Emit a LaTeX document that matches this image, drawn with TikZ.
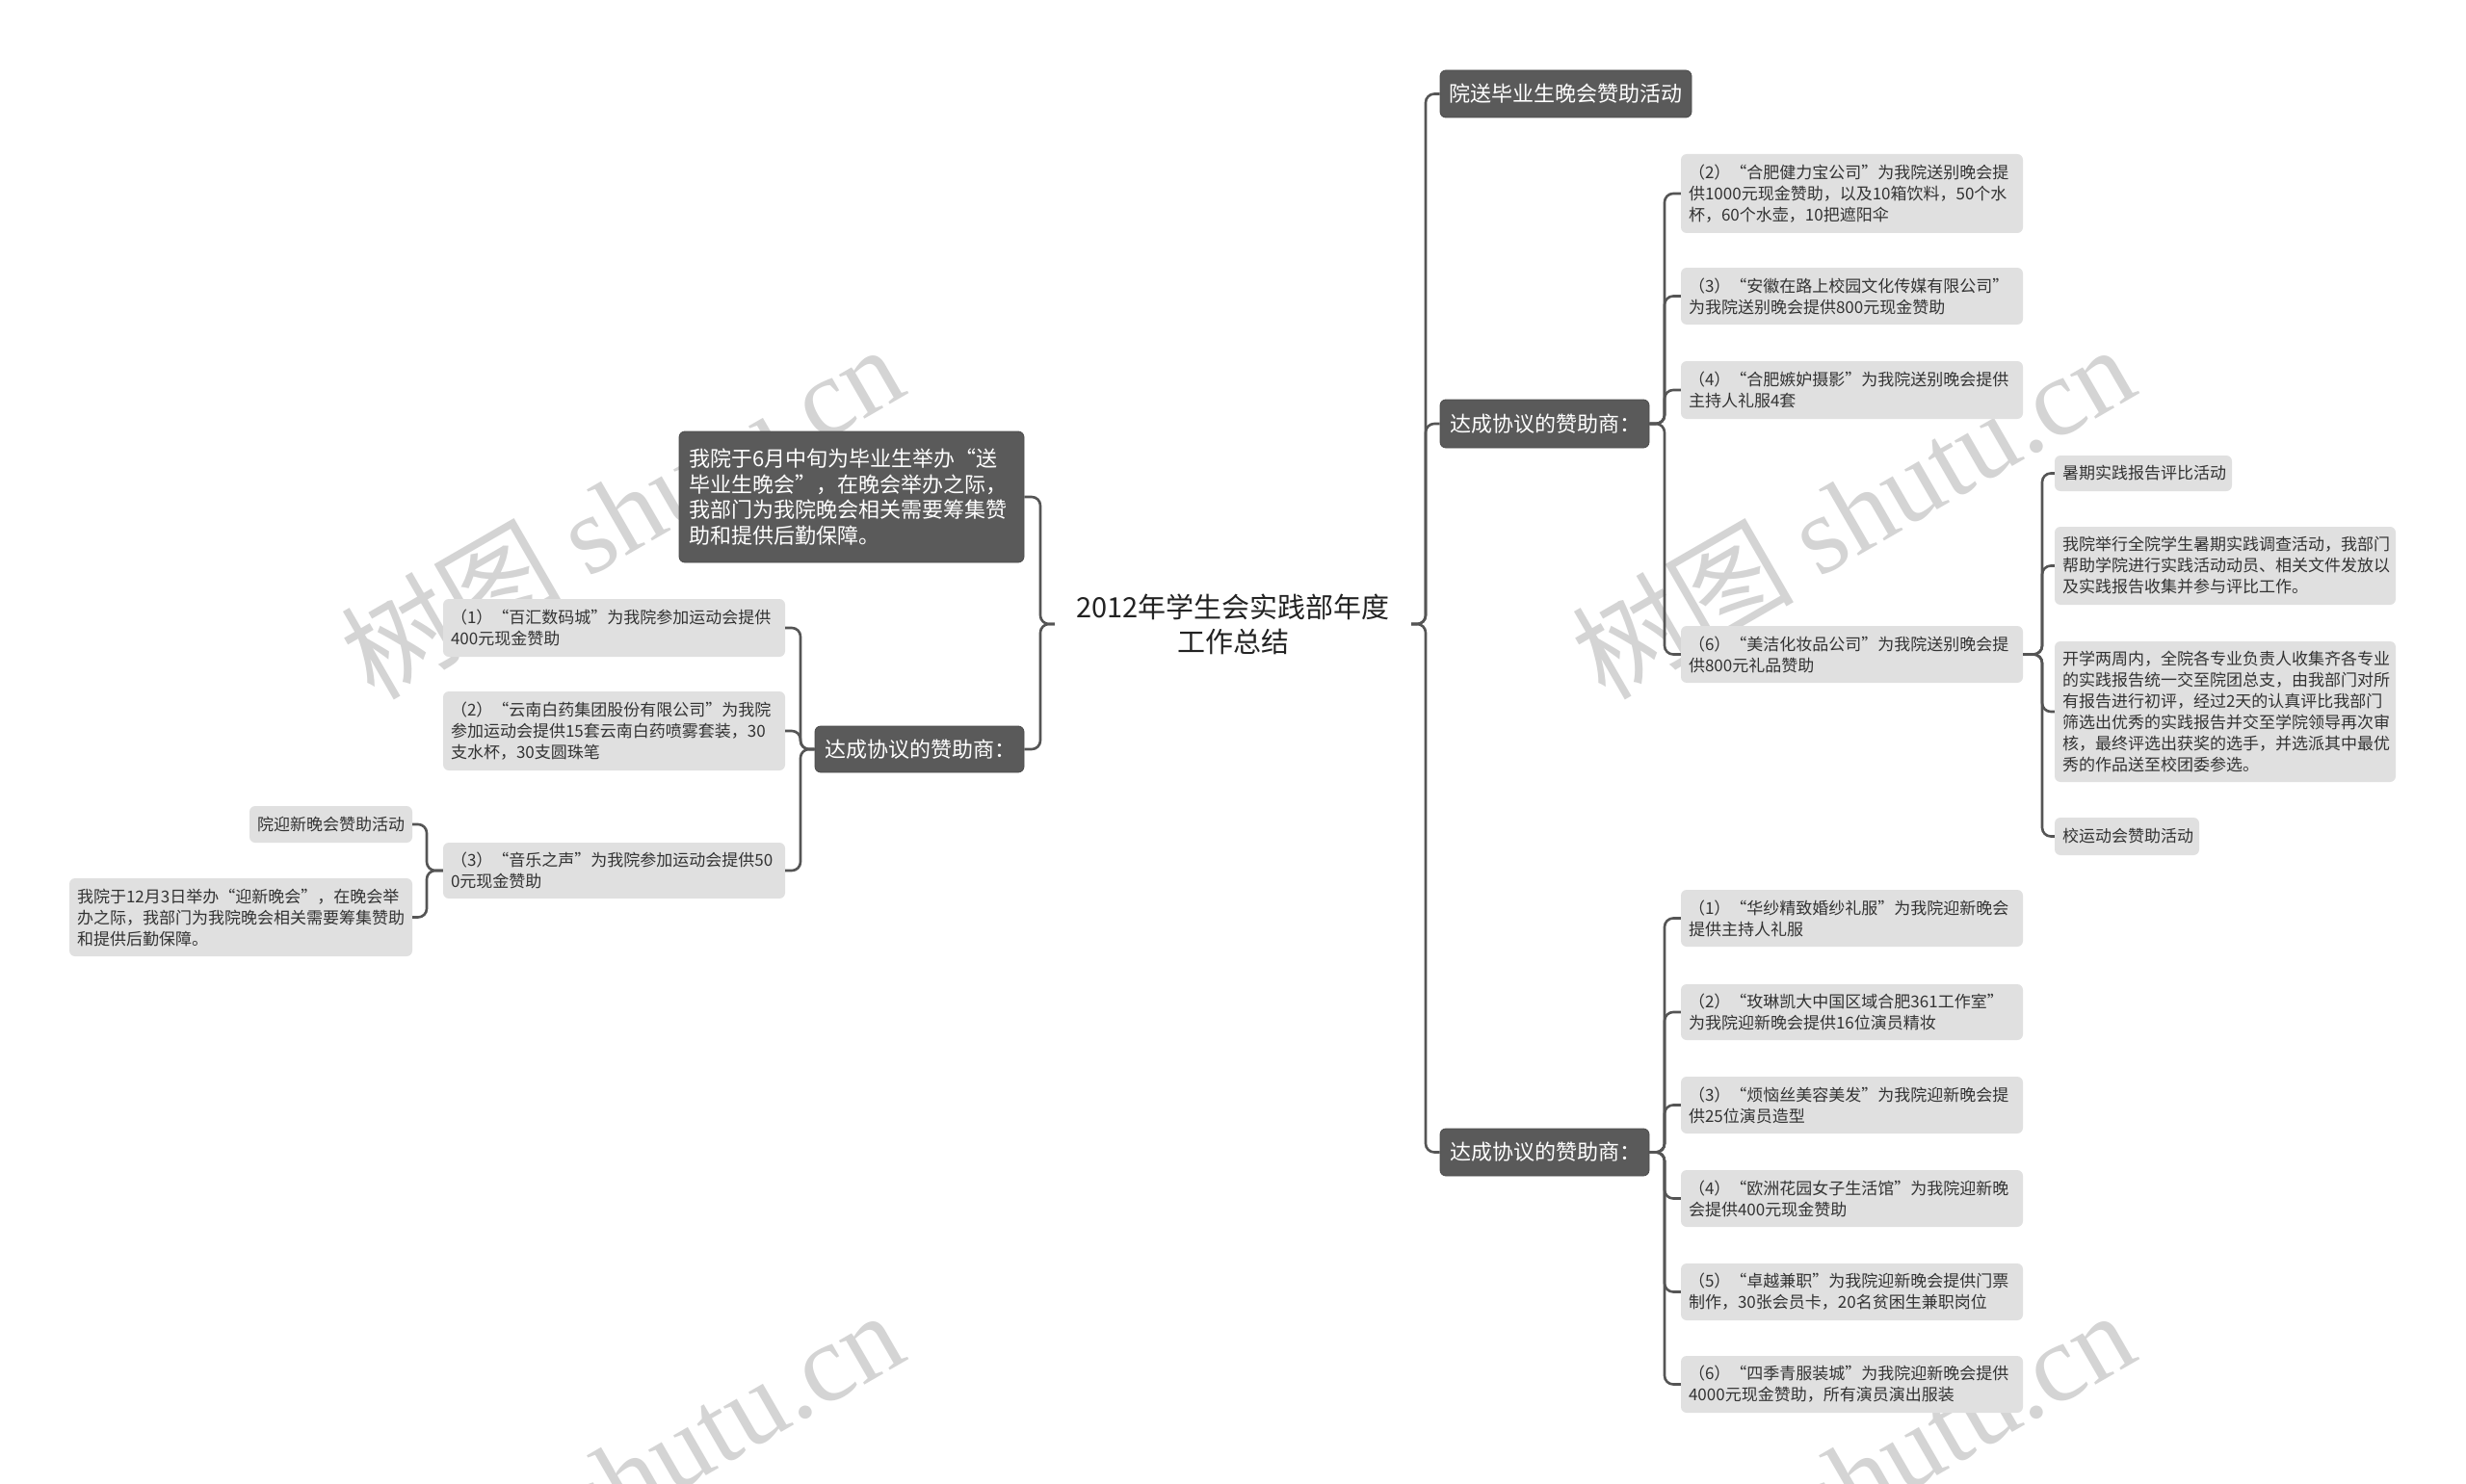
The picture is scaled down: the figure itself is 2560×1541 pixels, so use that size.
\documentclass[tikz,border=0pt]{standalone}
\usepackage{fontspec}
\setmainfont{Noto Sans CJK SC}
\newfontfamily\wmserif{Liberation Serif}
\definecolor{darkfill}{HTML}{5A5A5A}
\definecolor{darkedge}{HTML}{4A4A4A}
\definecolor{lightfill}{HTML}{E0E0E0}
\definecolor{linec}{HTML}{555555}
\definecolor{leaftext}{HTML}{333333}
\definecolor{titletext}{HTML}{222222}
\definecolor{wmc}{HTML}{D4D4D4}
\tikzset{
  basebox/.style={rounded corners=6pt, inner xsep=0pt, inner ysep=0pt, align=left},
  darkbox/.style={basebox, fill=darkfill, draw=darkedge, line width=0.8pt, text=white, font=\fontsize{22}{26.5}\selectfont},
  lightbox/.style={basebox, fill=lightfill, text=leaftext, font=\fontsize{17}{22}\selectfont},
  conn/.style={draw=linec, line width=2.6pt, rounded corners=9pt},
  wm/.style={text=wmc, font=\fontsize{115}{120}\selectfont, inner sep=0pt},
  titlebox/.style={inner sep=0pt, align=center, text=titletext, font=\fontsize{29}{36}\selectfont}
}
\newcommand\mkbox[8]{%
  \pgfmathsetmacro\mkbW{#5-#3}%
  \pgfmathsetmacro\mkbH{#6-#4}%
  \pgfmathsetmacro\mkbX{(#3+#5)/2}%
  \pgfmathsetmacro\mkbY{(#4+#6)/2}%
  \pgfmathsetmacro\mkbT{#5-#3-2*#7}%
  \node[#1, minimum width=\mkbW pt, minimum height=\mkbH pt, text width=\mkbT pt] (#2) at (\mkbX,\mkbY) {#8};}
\begin{document}
\begin{tikzpicture}[x=1pt, y=-1pt]
\useasboundingbox (0,0) rectangle (2560,1541);
\fill[white] (0,0) rectangle (2560,1541);

% watermarks
\node[wm, rotate=30] (wm1) at (645,530) {树图 {\wmserif shutu.cn}};
\node[wm, rotate=30] (wm2) at (1923,530) {树图 {\wmserif shutu.cn}};
\node[wm, rotate=30] (wm3) at (645,1533) {树图 {\wmserif shutu.cn}};
\node[wm, rotate=30] (wm4) at (1923,1533) {树图 {\wmserif shutu.cn}};

% vertical guide coordinates
\coordinate (vC) at (1080,0);
\coordinate (vCR) at (1480,0);
\coordinate (vL) at (831,0);
\coordinate (vL3) at (443,0);
\coordinate (vR) at (1728,0);
\coordinate (vR6) at (2120,0);

% central title
\node[titlebox, minimum width=370pt] (C) at (1280,648) {2012年学生会实践部年度\\工作总结};

% left side
\mkbox{darkbox}{D1}{705}{448}{1063}{584}{10}{我院于6月中旬为毕业生举办“送\\毕业生晚会”，在晚会举办之际，\\我部门为我院晚会相关需要筹集赞\\助和提供后勤保障。}
\mkbox{darkbox}{L}{846}{754}{1063}{802}{10}{达成协议的赞助商：}
\mkbox{lightbox}{LA1}{460}{622}{815}{682}{8}{（1）“百汇数码城”为我院参加运动会提供\\400元现金赞助}
\mkbox{lightbox}{LA2}{460}{718}{815}{800}{8}{（2）“云南白药集团股份有限公司”为我院\\参加运动会提供15套云南白药喷雾套装，30\\支水杯，30支圆珠笔}
\mkbox{lightbox}{LA3}{460}{875}{815}{933}{8}{（3）“音乐之声”为我院参加运动会提供50\\0元现金赞助}
\mkbox{lightbox}{LB1}{259}{837}{428}{875}{8}{院迎新晚会赞助活动}
\mkbox{lightbox}{LB2}{72}{912}{428}{993}{8}{我院于12月3日举办“迎新晚会”，在晚会举\\办之际，我部门为我院晚会相关需要筹集赞助\\和提供后勤保障。}

% right side
\mkbox{darkbox}{R1}{1495}{73}{1756}{122}{9}{院送毕业生晚会赞助活动}
\mkbox{darkbox}{R2}{1495}{415}{1712}{465}{10}{达成协议的赞助商：}
\mkbox{darkbox}{R3}{1495}{1172}{1712}{1221}{10}{达成协议的赞助商：}

\mkbox{lightbox}{RA2}{1745}{160}{2100}{242}{8}{（2）“合肥健力宝公司”为我院送别晚会提\\供1000元现金赞助，以及10箱饮料，50个水\\杯，60个水壶，10把遮阳伞}
\mkbox{lightbox}{RA3}{1745}{278}{2100}{337}{8}{（3）“安徽在路上校园文化传媒有限公司”\\为我院送别晚会提供800元现金赞助}
\mkbox{lightbox}{RA4}{1745}{375}{2100}{435}{8}{（4）“合肥嫉妒摄影”为我院送别晚会提供\\主持人礼服4套}
\mkbox{lightbox}{RA6}{1745}{650}{2100}{709}{8}{（6）“美洁化妆品公司”为我院送别晚会提\\供800元礼品赞助}

\mkbox{lightbox}{RC1}{2133}{473}{2317}{510}{8}{暑期实践报告评比活动}
\mkbox{lightbox}{RC2}{2133}{547}{2487}{628}{8}{我院举行全院学生暑期实践调查活动，我部门\\帮助学院进行实践活动动员、相关文件发放以\\及实践报告收集并参与评比工作。}
\mkbox{lightbox}{RC3}{2133}{666}{2487}{812}{8}{开学两周内，全院各专业负责人收集齐各专业\\的实践报告统一交至院团总支，由我部门对所\\有报告进行初评，经过2天的认真评比我部门\\筛选出优秀的实践报告并交至学院领导再次审\\核，最终评选出获奖的选手，并选派其中最优\\秀的作品送至校团委参选。}
\mkbox{lightbox}{RC4}{2133}{849}{2283}{888}{8}{校运动会赞助活动}

\mkbox{lightbox}{RB1}{1745}{924}{2100}{983}{8}{（1）“华纱精致婚纱礼服”为我院迎新晚会\\提供主持人礼服}
\mkbox{lightbox}{RB2}{1745}{1022}{2100}{1080}{8}{（2）“玫琳凯大中国区域合肥361工作室”\\为我院迎新晚会提供16位演员精妆}
\mkbox{lightbox}{RB3}{1745}{1118}{2100}{1177}{8}{（3）“烦恼丝美容美发”为我院迎新晚会提\\供25位演员造型}
\mkbox{lightbox}{RB4}{1745}{1215}{2100}{1274}{8}{（4）“欧洲花园女子生活馆”为我院迎新晚\\会提供400元现金赞助}
\mkbox{lightbox}{RB5}{1745}{1312}{2100}{1371}{8}{（5）“卓越兼职”为我院迎新晚会提供门票\\制作，30张会员卡，20名贫困生兼职岗位}
\mkbox{lightbox}{RB6}{1745}{1408}{2100}{1467}{8}{（6）“四季青服装城”为我院迎新晚会提供\\4000元现金赞助，所有演员演出服装}

% connectors: centre
\foreach \t in {D1,L}{
  \draw[conn] (C.west) -- (vC |- C.west) -- (vC |- \t.east) -- (\t.east);
}
\foreach \t in {R1,R2,R3}{
  \draw[conn] (C.east) -- (vCR |- C.east) -- (vCR |- \t.west) -- (\t.west);
}
% left branch
\foreach \t in {LA1,LA2,LA3}{
  \draw[conn] (L.west) -- (vL |- L.west) -- (vL |- \t.east) -- (\t.east);
}
\foreach \t in {LB1,LB2}{
  \draw[conn] (LA3.west) -- (vL3 |- LA3.west) -- (vL3 |- \t.east) -- (\t.east);
}
% right branches
\foreach \t in {RA2,RA3,RA4,RA6}{
  \draw[conn] (R2.east) -- (vR |- R2.east) -- (vR |- \t.west) -- (\t.west);
}
\foreach \t in {RC1,RC2,RC3,RC4}{
  \draw[conn] (RA6.east) -- (vR6 |- RA6.east) -- (vR6 |- \t.west) -- (\t.west);
}
\foreach \t in {RB1,RB2,RB3,RB4,RB5,RB6}{
  \draw[conn] (R3.east) -- (vR |- R3.east) -- (vR |- \t.west) -- (\t.west);
}
\end{tikzpicture}
\end{document}
